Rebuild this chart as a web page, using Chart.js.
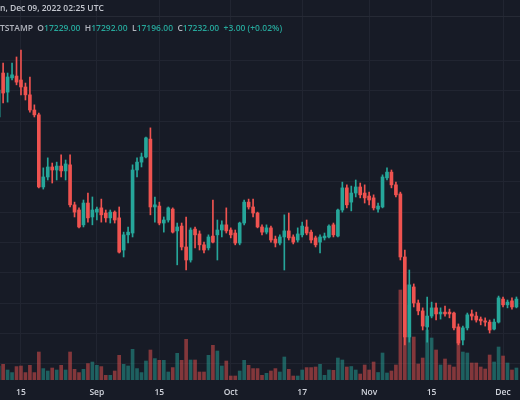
<!DOCTYPE html>
<html>
<head>
<meta charset="utf-8">
<script src="https://cdn.jsdelivr.net/npm/chart.js@4.4.0/dist/chart.umd.min.js"></script>
<style>
  html, body { margin: 0; padding: 0; background: #171b26; }
  #wrap { position: relative; width: 520px; height: 400px; overflow: hidden; background: #171b26; }
  #chart { position: absolute; left: 0; top: 0; }
  .hdr { position: absolute; left: 0; font-family: "Open Sans", sans-serif; white-space: nowrap; }
  #hdr1 { top: 0; width: 520px; height: 16px; line-height: 16px; border-bottom: 1px solid #262a35;
          font-size: 8.5px; font-weight: 600; color: #c3c6ce; }
  #hdr2 { top: 21px; line-height: 14px; font-size: 8.5px; font-weight: 600; color: #b2b5be; }
  .up { color: #26a69a; }
</style>
</head>
<body>
<div id="wrap">
  <canvas id="chart" width="520" height="400"></canvas>
  <div class="hdr" id="hdr1">n, Dec 09, 2022 02:25 UTC</div>
  <div class="hdr" id="hdr2">TSTAMP &nbsp;O<span class="up">17229.00</span> &nbsp;H<span class="up">17292.00</span> &nbsp;L<span class="up">17196.00</span> &nbsp;C<span class="up">17232.00</span> &nbsp;<span class="up">+3.00 (+0.02%)</span></div>
</div>
<script>
// daily BTC/USD candles, Aug 10 .. Dec 4 2022 (index = day number)
const opens = [
  23140, 24590, 23960, 24430, 24490, 24360, 24130, 23870, 23370, 23210,
  20830, 21160, 21490, 21390, 21520, 21360, 21560, 20240, 20070, 19580,
  20300, 19840, 20000, 20140, 19970, 19810, 20000, 19810, 18750, 19250,
  19310, 21390, 21650, 21820, 22410, 20170, 20200, 19640, 19740, 20100,
  19380, 19540, 18850, 18420, 19440, 19280, 18920, 18820, 19210, 19250,
  19410, 19580, 19410, 19310, 18980, 19640, 20330, 20170, 19970, 19510,
  19340, 19480, 19110, 18980, 19180, 19380, 19180, 19080, 19250, 19510,
  19340, 19150, 19010, 19150, 19180, 19580, 19210, 20070, 20800, 20330,
  20630, 20830, 20630, 20530, 20470, 20100, 20170, 21130, 21320, 20900,
  20600, 18520, 15880, 17530, 17000, 16740, 16210, 16570, 16840, 16640,
  16700, 16700, 16670, 16210, 15780, 16180, 16640, 16570, 16470, 16410,
  16370, 16140, 16370, 17130, 16940, 17070, 16870
];
const highs = [
  24890, 24920, 24590, 24920, 25120, 25350, 24260, 24460, 23540, 23270,
  21460, 21790, 21620, 21650, 21890, 21720, 21890, 20330, 20140, 20400,
  20630, 20500, 20170, 20430, 20070, 20070, 20040, 20170, 19340, 19510,
  21560, 21790, 21950, 22480, 22780, 20500, 20330, 19840, 20170, 20140,
  19640, 19640, 19840, 19480, 19510, 19380, 19010, 19250, 20400, 19740,
  19710, 20140, 19480, 19410, 19670, 20400, 20430, 20430, 20000, 19580,
  19580, 19540, 19210, 19250, 19910, 19970, 19250, 19480, 19670, 19740,
  19410, 19210, 19250, 19310, 19580, 19640, 20100, 20990, 20900, 20860,
  21060, 20960, 20900, 20660, 20570, 20300, 21230, 21460, 21390, 20990,
  20660, 18750, 18090, 17630, 17100, 16840, 17200, 17030, 17000, 16840,
  16900, 16800, 16700, 16310, 16240, 16670, 16770, 16700, 16540, 16510,
  16440, 16470, 17230, 17200, 17100, 17170, 17200
];
const lows = [
  23110, 23600, 23630, 24360, 24200, 23870, 23700, 23300, 23140, 20800,
  20760, 21060, 20960, 21060, 21160, 21060, 20170, 19840, 19480, 19510,
  19670, 19580, 19740, 19670, 19670, 19640, 19640, 18650, 18520, 18980,
  19180, 21160, 21490, 21790, 19910, 19670, 19580, 19340, 19670, 19310,
  18260, 18750, 18090, 18350, 18820, 18750, 18650, 18750, 18980, 18420,
  19180, 19310, 19150, 18920, 18920, 19580, 20100, 19840, 19480, 19250,
  19280, 19010, 18850, 18920, 18090, 19080, 18950, 19010, 19180, 19250,
  18980, 18850, 18650, 19080, 19150, 19180, 19180, 20000, 20140, 20040,
  20500, 20470, 20300, 20240, 20070, 20000, 20140, 21060, 20800, 20500,
  18420, 15620, 15710, 16870, 16610, 16110, 15710, 16510, 16440, 16470,
  16570, 16510, 16110, 15620, 15620, 16110, 16440, 16370, 16280, 16240,
  16010, 16110, 16340, 16870, 16840, 16800, 16840
];
const closes = [
  24030, 23930, 24460, 24530, 24290, 24130, 23870, 23370, 23210, 20830,
  21160, 21490, 21390, 21520, 21360, 21590, 20240, 20000, 19510, 20300,
  19810, 20070, 20100, 19910, 19810, 20000, 19740, 18680, 19250, 19340,
  21390, 21650, 21820, 22450, 20170, 20240, 19640, 19740, 20140, 19340,
  19510, 18850, 18420, 19410, 19250, 18920, 18750, 19180, 19010, 19410,
  19580, 19380, 19250, 18980, 19640, 20330, 20170, 19970, 19510, 19340,
  19480, 19080, 18980, 19180, 19380, 19150, 19010, 19280, 19540, 19310,
  19080, 18920, 19180, 19210, 19540, 19250, 20070, 20800, 20240, 20630,
  20830, 20570, 20470, 20400, 20140, 20200, 21160, 21320, 20900, 20570,
  18520, 15880, 17600, 17000, 16740, 16240, 16570, 16840, 16640, 16700,
  16640, 16640, 16180, 15680, 16180, 16610, 16570, 16440, 16410, 16370,
  16110, 16370, 17170, 16940, 17030, 16870, 17130
];
const volumes = [
  1400, 1570, 1000, 740, 1340, 1400, 740, 1470, 740, 2800,
  1140, 900, 1200, 1000, 1470, 1000, 2800, 1070, 740, 1070,
  1640, 1800, 1470, 1340, 470, 470, 900, 2470, 1570, 1400,
  3070, 1140, 740, 1900, 3000, 2140, 1970, 1970, 800, 1240,
  2670, 1970, 4070, 2000, 2000, 800, 800, 2470, 3470, 2900,
  1400, 1900, 400, 400, 900, 1970, 1470, 1140, 1140, 470,
  670, 900, 1140, 800, 2300, 1070, 400, 400, 1000, 1240,
  1240, 1300, 1570, 470, 1000, 970, 2200, 2000, 1300, 1350,
  1000, 600, 1500, 1000, 1800, 750, 2700, 700, 900, 1500,
  9000, 9500, 7500, 4300, 1600, 2200, 5000, 4200, 3000, 1500,
  2100, 1500, 1300, 5300, 2800, 2700, 1700, 1700, 1300, 1100,
  2500, 1800, 3300, 2400, 1700, 1000, 1200
];

// x axis labels (day number -> text)
const tickDays = [5, 22, 36, 52, 68, 83, 97, 113];
const tickLabels = ["15", "Sep", "15", "Oct", "17", "Nov", "15", "Dec"];
const priceGrid = [15000, 16000, 17000, 18000, 19000, 20000, 21000, 22000, 23000, 24000, 25000];

const UP = "#26a69a";
const DOWN = "#ef5350";
const UP_VOL = "rgba(38,166,154,0.5)";
const DOWN_VOL = "rgba(239,83,80,0.5)";

let isUp = closes.map((c, i) => c >= opens[i]);
let candleColors = isUp.map((u) => (u ? UP : DOWN));
let volColors = isUp.map((u) => (u ? UP_VOL : DOWN_VOL));

let ctx = document.getElementById("chart").getContext("2d");

let myChart = new Chart(ctx, {
  type: "bar",
  data: {
    datasets: [
      {
        label: "body",
        data: opens.map((o, i) => ({ x: i, y: [o, closes[i]] })),
        backgroundColor: candleColors,
        barThickness: 3,
        minBarLength: 1,
        grouped: false,
        yAxisID: "y",
        order: 0,
      },
      {
        label: "wick",
        data: lows.map((l, i) => ({ x: i, y: [l, highs[i]] })),
        backgroundColor: candleColors,
        barThickness: 1,
        grouped: false,
        yAxisID: "y",
        order: 1,
      },
      {
        label: "volume",
        data: volumes.map((v, i) => ({ x: i, y: v })),
        backgroundColor: volColors,
        barThickness: 3,
        grouped: false,
        yAxisID: "yv",
        order: 2,
      },
    ],
  },
  options: {
    responsive: false,
    animation: false,
    layout: { padding: 0 },
    plugins: { legend: { display: false }, tooltip: { enabled: false } },
    scales: {
      x: {
        type: "linear",
        min: 0.3,
        max: 116.8,
        offset: false,
        border: { display: false },
        grid: { color: "#212531", drawTicks: false, offset: false },
        afterBuildTicks: (scale) => {
          scale.ticks = tickDays.map((d) => ({ value: d }));
        },
        afterFit: (scale) => {
          scale.height = 20;
        },
        ticks: {
          padding: 7,
          color: "#d1d4dc",
          font: { family: "Open Sans", size: 8.5, weight: "600" },
          maxRotation: 0,
          autoSkip: false,
          callback: (value) => tickLabels[tickDays.indexOf(value)],
        },
      },
      y: {
        min: 14460,
        max: 27000,
        position: "right",
        border: { display: false },
        grid: { color: "#212531", drawTicks: false },
        ticks: { display: false },
        afterBuildTicks: (scale) => {
          scale.ticks = priceGrid.map((p) => ({ value: p }));
        },
        afterFit: (scale) => {
          scale.width = 0;
        },
      },
      yv: {
        min: 0,
        max: 38000,
        position: "left",
        display: false,
      },
    },
  },
});
</script>
</body>
</html>
